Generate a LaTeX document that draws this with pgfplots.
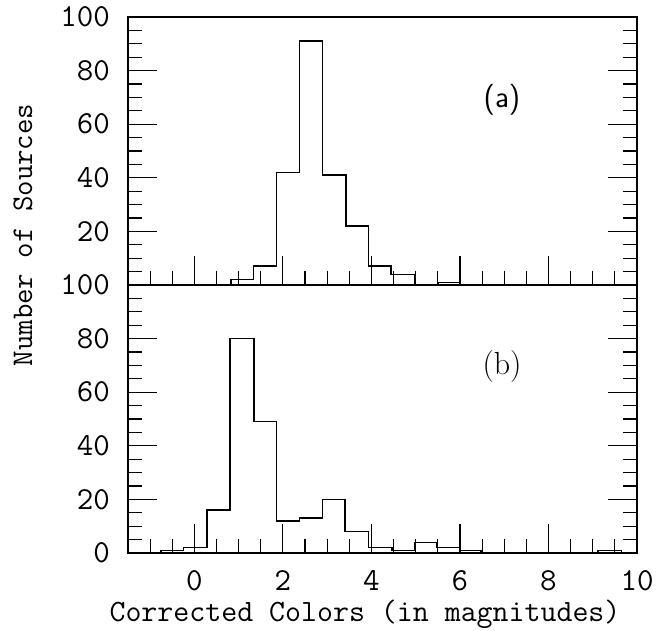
\documentclass[border=0pt]{standalone}
\usepackage{fontspec}
\usepackage{pgfplots}
\pgfplotsset{compat=1.18}
\newcommand{\bigf}{\fontsize{32}{35}\selectfont\ttfamily}
\begin{document}
\begin{tikzpicture}[x=1pt,y=1pt]
\pgfplotsset{
  hist/.style={
    scale only axis, width=509pt, height=268pt,
    xmin=-1.5, xmax=10, ymin=0, ymax=100,
    axis line style={line width=1.3pt},
    every tick/.style={black, line width=1.1pt},
    major tick length=29pt, minor tick length=14pt,
    tick align=inside,
    xtick pos=left, ytick pos=both,
    xtick={0,2,4,6,8,10},
    minor xtick={-1,-0.5,0.5,1,1.5,2.5,3,3.5,4.5,5,5.5,6.5,7,7.5,8.5,9,9.5},
    ytick={0,20,40,60,80,100},
    minor ytick={5,10,15,25,30,35,45,50,55,65,70,75,85,90,95},
    tick label style={font=\bigf},
    yticklabel style={anchor=east, inner sep=0pt, xshift=-18pt},
    xticklabel style={anchor=north, inner sep=0pt, yshift=-17pt},
    /pgf/number format/assume math mode=true,
  }
}
\begin{axis}[hist, at={(0pt,268pt)}, anchor=south west,
  xticklabels={}, yticklabels={,20,40,60,80,100}]
\addplot[const plot, black, line width=1.5pt] coordinates {
(0.83,0)(0.83,2)(1.34,7)(1.85,42)(2.38,91)(2.89,41)(3.42,22)(3.93,7)(4.44,4)(4.97,0)(5.50,1)(5.99,0)};
\end{axis}
\begin{axis}[hist, at={(0pt,0pt)}, anchor=south west,
  xticklabels={0,2,4,6,8,10}, yticklabels={0,20,40,60,80,100}]
\addplot[const plot, black, line width=1.5pt] coordinates {
(-0.76,0)(-0.76,1)(-0.25,2)(0.29,16)(0.81,80)(1.35,49)(1.85,12)(2.38,13)(2.89,20)(3.40,8)(3.93,2)(4.46,1)(4.97,4)(5.48,2)(5.99,1)(6.48,0)(9.12,1)(9.65,0)};
\end{axis}
\node[rotate=90, font=\fontsize{30}{33}\selectfont\ttfamily] at (-105,318) {Number of Sources};
\node[font=\fontsize{31}{34}\selectfont\ttfamily, anchor=base, inner sep=0pt] at (237,-69) {Corrected Colors (in magnitudes)};
\node[font=\fontsize{31}{34}\selectfont\sffamily] at (374,453) {(a)};
\node[font=\fontsize{32}{35}\selectfont] at (374,186) {(b)};
\pgfresetboundingbox
\path[use as bounding box] (-128,-78) rectangle (544,553);
\end{tikzpicture}
\end{document}
